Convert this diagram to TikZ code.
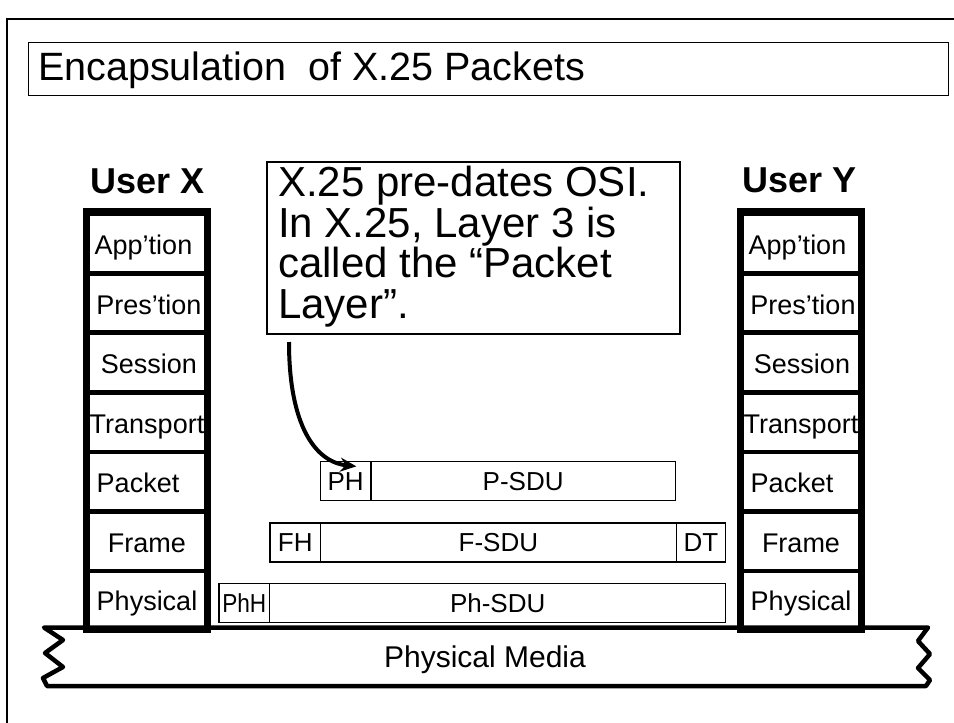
\documentclass[tikz,border=0pt]{standalone}
\usepackage{fontspec}
\setmainfont{Liberation Sans}
\usetikzlibrary{arrows.meta,calc}
\begin{document}
\begin{tikzpicture}[x=1pt,y=-1pt,
  layer/.style={draw, line width=4.5pt, minimum width=118pt, inner sep=0pt, text height=22pt, text depth=0pt, font=\fontsize{27pt}{30pt}\selectfont},
  pdu/.style={draw, line width=1.3pt, inner sep=0pt, minimum height=39pt, text height=18.6pt, text depth=0pt, font=\fontsize{26pt}{30pt}\selectfont},
  userlbl/.style={anchor=base, inner sep=0pt, font=\bfseries\fontsize{36pt}{40pt}\selectfont},
  stackframe/.style={line width=5.5pt},
]
\useasboundingbox (0,0) rectangle (954,723);
\fill[white] (0,0) rectangle (954,723);
% slide frame
\draw[line width=2.5pt] (7,735) -- (7,19) -- (965,19);
% title
\node[draw, line width=1.2pt, anchor=north west, minimum width=920pt, minimum height=53pt, inner sep=0pt] (titlebox) at (28,42) {};
\node[anchor=base west, inner sep=0pt, font=\fontsize{39.5pt}{42pt}\selectfont] (title) at (38,80) {Encapsulation\ \ of X.25 Packets};

% physical media
\draw[line width=4.5pt, line join=round, fill=white]
  (44,627.5) -- (928,627.5) -- (918,641) -- (930,654) -- (918,668) -- (930,680) -- (926,686)
  -- (47,686) -- (43,678) -- (63,667) -- (45,653) -- (63,640) -- cycle;
\node[anchor=base, inner sep=0pt, font=\fontsize{30pt}{34pt}\selectfont] (media) at (485,667) {Physical Media};

% user labels
\node[userlbl] (userx) at (148,193) {User X};
\node[userlbl] (usery) at (800,192) {User Y};

% stack X
\node[layer, minimum height=60pt]   (x1) at (147,243.3)  {App’tion\hspace{7pt}\null};
\node[layer, minimum height=59.4pt] (x2) at (147,303)    {\hspace{4pt}Pres’tion};
\node[layer, minimum height=60pt]   (x3) at (147,362.7)  {\hspace{4pt}Session};
\node[layer, minimum height=59.3pt] (x4) at (147,422.35) {Transport};
\node[layer, minimum height=59.7pt] (x5) at (147,481.85) {Packet\hspace{18pt}\null};
\node[layer, minimum height=59.3pt] (x6) at (147,541.35) {Frame};
\node[layer, minimum height=57pt]   (x7) at (147,599.5)  {Physical};
\draw[stackframe] (x1.north west) rectangle (x7.south east);

% stack Y
\node[layer, minimum height=60pt]   (y1) at (801,243.3)  {App’tion\hspace{7pt}\null};
\node[layer, minimum height=59.4pt] (y2) at (801,303)    {\hspace{4pt}Pres’tion};
\node[layer, minimum height=60pt]   (y3) at (801,362.7)  {\hspace{2pt}Session};
\node[layer, minimum height=59.3pt] (y4) at (801,422.35) {Transport};
\node[layer, minimum height=59.7pt] (y5) at (801,481.85) {Packet\hspace{18pt}\null};
\node[layer, minimum height=59.3pt] (y6) at (801,541.35) {Frame};
\node[layer, minimum height=57pt]   (y7) at (801,599.5)  {Physical};
\draw[stackframe] (y1.north west) rectangle (y7.south east);

% PDUs
\node[pdu, minimum width=50.9pt]  (ph)    at (345.65,480.8) {PH};
\node[pdu, minimum width=304.1pt] (psdu)  at (523.15,480.8) {P-SDU};
\node[pdu, minimum width=50.6pt]  (fh)    at (295.2,542.4)  {FH};
\node[pdu, minimum width=355.7pt] (fsdu)  at (498.35,542.4) {F-SDU};
\node[pdu, minimum width=49.6pt]  (dt)    at (701,542.4)    {DT};
\node[pdu, minimum width=50.7pt]  (phh)   at (244.25,603)   {\scalebox{0.87}[1]{PhH}};
\node[pdu, minimum width=456.2pt] (phsdu) at (497.7,603)    {Ph-SDU};

% callout
\node[draw, line width=2pt, anchor=north west, minimum width=413pt, minimum height=172pt, inner sep=0pt] (callout) at (266,161) {};
\node[anchor=north west, inner sep=0pt, align=left, font=\fontsize{42pt}{40.5pt}\selectfont] (callouttext) at (278,164.7)
  {\rule{0pt}{32pt}X.25 pre-dates OSI.\\In X.25, Layer 3 is\\called the “Packet\\Layer”.};

\coordinate (astart) at ($(callout.south west)+(23,7)$);
\coordinate (aend) at ($(ph.north west)+(36.8,5.7)$);
\draw[line width=4pt, -{Stealth[length=16pt, width=14pt]}] (astart) .. controls (289,425) and (315,462) .. (aend);
\end{tikzpicture}
\end{document}
